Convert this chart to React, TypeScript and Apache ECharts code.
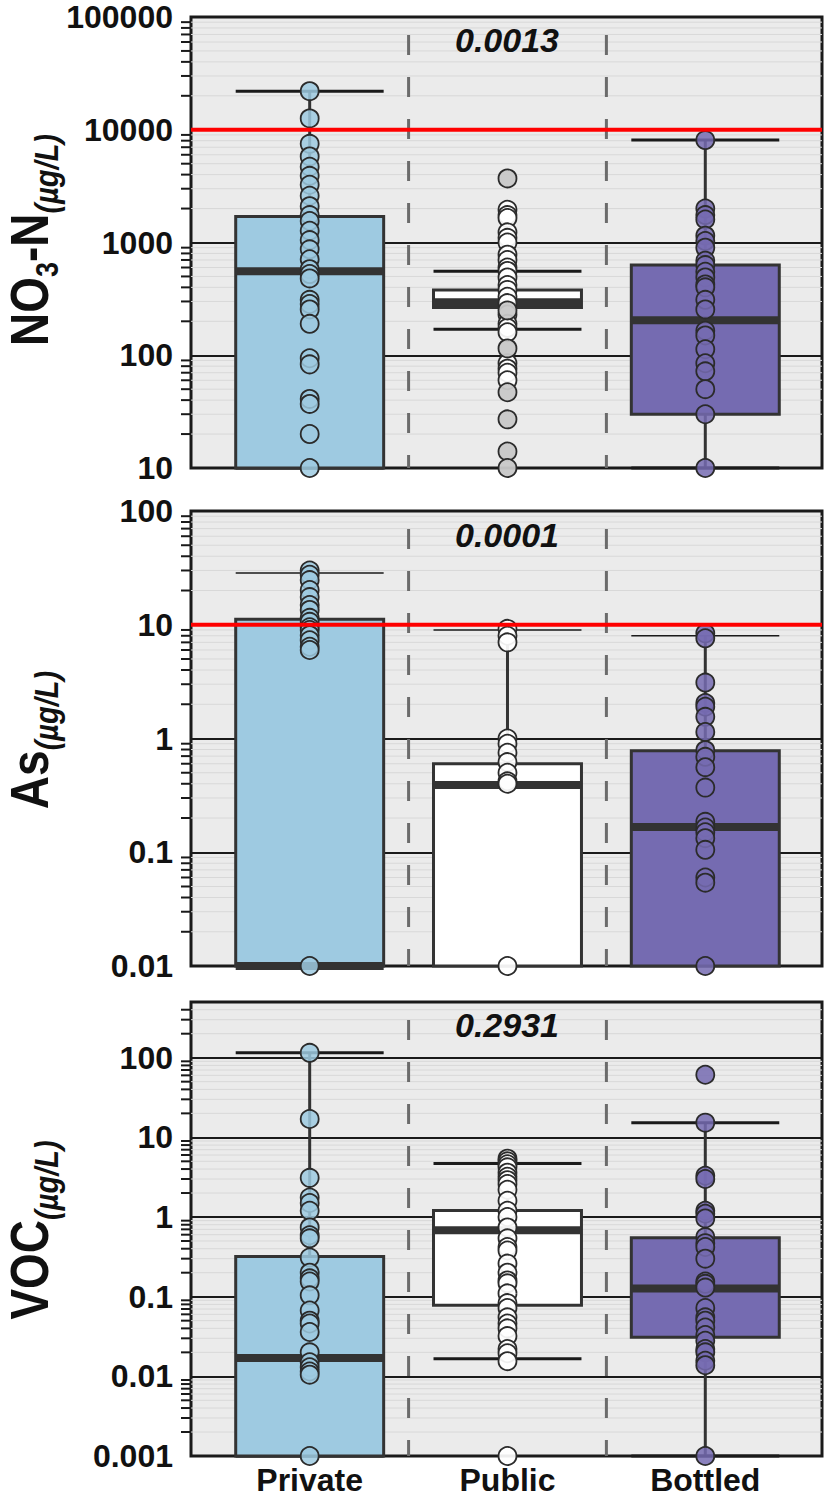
import React, { useEffect, useRef } from 'react';
import * as echarts from 'echarts';

const categories = ['Private', 'Public', 'Bottled'];

// ---- NO3-N (µg/L) ----
const no3Private = [22000, 12600, 7500, 5800, 4700, 3900, 3250, 2600, 2100, 1750, 1550, 1270, 1050, 870, 710, 580, 525, 480, 310, 285, 255, 190, 94, 83, 41, 37, 20, 10];
const no3PublicWhite = [1950, 1750, 1650, 1230, 1100, 1000, 780, 700, 600, 560, 490, 420, 380, 330, 290, 230, 190, 175, 160, 85, 76, 70, 60];
const no3PublicGray = [3700, 250, 115, 47, 27, 14, 10];
const no3Bottled = [8100, 2000, 1750, 1600, 1150, 1030, 900, 690, 630, 550, 490, 425, 400, 310, 255, 165, 150, 113, 85, 72, 50, 30, 10];
// [lower whisker, Q1, median, Q3, upper whisker]
const no3Box = [
  [10, 10, 556, 1700, 22000],
  [170, 265, 295, 380, 556],
  [10, 30, 204, 630, 8100],
];
const no3Limit = 10000;
const no3PValue = '0.0013';
const no3Range = [10, 100000];

// ---- As (µg/L) ----
const asPrivate = [30, 27.5, 24.7, 20.2, 17.5, 14.9, 13.5, 11.5, 10.6, 9.5, 9.0, 8.1, 7.3, 6.4, 6.0, 0.01];
const asPublic = [9.2, 8.0, 7.0, 1.0, 0.9, 0.75, 0.62, 0.5, 0.42, 0.4, 0.01];
const asBottled = [8.4, 7.6, 3.1, 2.05, 1.9, 1.55, 1.14, 0.79, 0.69, 0.56, 0.37, 0.185, 0.165, 0.15, 0.133, 0.105, 0.06, 0.054, 0.01];
const asBox = [
  [0.01, 0.01, 0.01, 11.2, 28.5],
  [0.01, 0.01, 0.39, 0.6, 9.0],
  [0.01, 0.01, 0.167, 0.78, 8.0],
];
const asLimit = 10;
const asPValue = '0.0001';
const asRange = [0.01, 100];

// ---- VOC (µg/L) ----
const vocPrivate = [115, 17, 3.1, 1.76, 1.5, 1.2, 0.74, 0.59, 0.54, 0.31, 0.2, 0.17, 0.155, 0.104, 0.067, 0.05, 0.046, 0.036, 0.02, 0.015, 0.013, 0.0115, 0.0105, 0.001];
const vocPublic = [5.4, 5.0, 4.6, 4.2, 3.6, 3.2, 2.9, 2.6, 2.2, 1.6, 1.2, 1.0, 0.74, 0.54, 0.42, 0.38, 0.26, 0.2, 0.16, 0.147, 0.11, 0.083, 0.072, 0.055, 0.046, 0.04, 0.032, 0.022, 0.0195, 0.0155, 0.001];
const vocBottled = [61, 15.3, 3.3, 3.0, 1.2, 1.1, 0.96, 0.56, 0.47, 0.42, 0.3, 0.155, 0.145, 0.13, 0.072, 0.055, 0.05, 0.041, 0.033, 0.028, 0.022, 0.02, 0.0157, 0.0138, 0.001];
const vocBox = [
  [0.001, 0.001, 0.017, 0.32, 115],
  [0.0166, 0.078, 0.68, 1.21, 4.7],
  [0.001, 0.031, 0.127, 0.55, 15.2],
];
const vocPValue = '0.2931';
const vocRange = [0.001, 500];

const FONT = '"Liberation Sans", Arial, Helvetica, sans-serif';
const boxFill = ['#9ecae1', '#ffffff', '#756bb1'];
const dotFill = ['rgba(158,202,225,0.85)', 'rgba(255,255,255,0.92)', 'rgba(117,107,177,0.85)'];
const dotGray = 'rgba(200,200,200,0.95)';

const GRID_LEFT = 191;
const GRID_WIDTH = 631;
const X_MIN = -0.6;
const X_MAX = 2.59;
const BOX_HALF = 0.374;

const panels = [
  {
    top: 17, height: 451, range: no3Range, box: no3Box, limit: no3Limit, p: no3PValue, pY: 40, cap: 3,
    groups: [[no3Private, 0, dotFill[0]], [no3PublicWhite, 1, dotFill[1]], [no3PublicGray, 1, dotGray], [no3Bottled, 2, dotFill[2]]],
    title: '{a|NO}{s|3}{a|-N}{u|(µg/L)}', titleY: 240,
  },
  {
    top: 511, height: 455, range: asRange, box: asBox, limit: asLimit, p: asPValue, pY: 535, cap: 1.5,
    groups: [[asPrivate, 0, dotFill[0]], [asPublic, 1, dotFill[1]], [asBottled, 2, dotFill[2]]],
    title: '{a|As}{u|(µg/L)}', titleY: 740,
  },
  {
    top: 1002, height: 454, range: vocRange, box: vocBox, limit: null as number | null, p: vocPValue, pY: 1025, cap: 3,
    groups: [[vocPrivate, 0, dotFill[0]], [vocPublic, 1, dotFill[1]], [vocBottled, 2, dotFill[2]]],
    title: '{a|VOC}{u|(µg/L)}', titleY: 1230,
  },
];

function minorValues(min: number, max: number) {
  const out: number[] = [];
  for (let k = Math.floor(Math.log10(min)); k <= Math.ceil(Math.log10(max)); k++) {
    for (let m = 2; m <= 9; m++) {
      const v = parseFloat((m * Math.pow(10, k)).toPrecision(6));
      if (v > min * 1.0001 && v < max * 0.9999) out.push(v);
    }
  }
  return out;
}

function logLabel(v: number) {
  const l = Math.log10(v);
  const r = Math.round(l);
  if (Math.abs(l - r) > 1e-6) return '';
  return r >= 0 ? String(Math.pow(10, r)) : Math.pow(10, r).toFixed(-r);
}

function buildOption() {
  const series: any[] = [];
  panels.forEach((p, i) => {
    // minor grid lines + minor ticks
    series.push({
      type: 'custom', xAxisIndex: i, yAxisIndex: i, z: 1, silent: true, clip: false,
      data: minorValues(p.range[0], p.range[1]).map((v) => [0, v]),
      encode: { x: 0, y: 1 },
      renderItem: (params: any, api: any) => {
        const cs = params.coordSys;
        const y = api.coord([0, api.value(1)])[1];
        return {
          type: 'group',
          children: [
            { type: 'line', shape: { x1: cs.x, y1: y, x2: cs.x + cs.width, y2: y }, style: { stroke: '#d8d8d8', lineWidth: 1 } },
            { type: 'line', shape: { x1: cs.x - 10, y1: y, x2: cs.x, y2: y }, style: { stroke: '#1a1a1a', lineWidth: 2 } },
          ],
        };
      },
    });
    // dashed separators
    series.push({
      type: 'custom', xAxisIndex: i, yAxisIndex: i, z: 2, silent: true, clip: false,
      data: [[0.5, p.range[0]], [1.5, p.range[0]]],
      encode: { x: 0, y: 1 },
      renderItem: (params: any, api: any) => {
        const cs = params.coordSys;
        const x = api.coord([api.value(0), api.value(1)])[0];
        return {
          type: 'line',
          shape: { x1: x, y1: cs.y, x2: x, y2: cs.y + cs.height },
          style: { stroke: '#6b6b6b', lineWidth: 3, lineDash: [20, 22], lineDashOffset: 24 },
        };
      },
    });
    // boxes
    series.push({
      type: 'custom', xAxisIndex: i, yAxisIndex: i, z: 3, silent: true, clip: false,
      data: p.box.map((b, k) => [k, ...b]),
      encode: { x: 0, y: [1, 2, 3, 4, 5] },
      renderItem: (params: any, api: any) => {
        const idx = params.dataIndex;
        const x = api.value(0);
        const lo = api.coord([x, api.value(1)]);
        const q1 = api.coord([x, api.value(2)]);
        const md = api.coord([x, api.value(3)]);
        const q3 = api.coord([x, api.value(4)]);
        const hi = api.coord([x, api.value(5)]);
        const left = api.coord([x - BOX_HALF, api.value(3)])[0];
        const right = api.coord([x + BOX_HALF, api.value(3)])[0];
        const stroke = '#333333';
        return {
          type: 'group',
          children: [
            { type: 'line', shape: { x1: lo[0], y1: lo[1], x2: hi[0], y2: hi[1] }, style: { stroke, lineWidth: 3 } },
            { type: 'line', shape: { x1: left, y1: hi[1], x2: right, y2: hi[1] }, style: { stroke: '#1a1a1a', lineWidth: p.cap } },
            { type: 'line', shape: { x1: left, y1: lo[1], x2: right, y2: lo[1] }, style: { stroke: '#1a1a1a', lineWidth: p.cap } },
            { type: 'rect', shape: { x: left, y: q3[1], width: right - left, height: q1[1] - q3[1] }, style: { fill: boxFill[idx], stroke, lineWidth: 3 } },
            { type: 'line', shape: { x1: left, y1: md[1], x2: right, y2: md[1] }, style: { stroke, lineWidth: 8 } },
          ],
        };
      },
    });
    // points
    p.groups.forEach((g: any) => {
      const [vals, cat, color] = g;
      series.push({
        type: 'scatter', xAxisIndex: i, yAxisIndex: i, z: 4, silent: true, clip: false,
        symbol: 'circle', symbolSize: 18,
        data: (vals as number[]).map((v) => [cat, v]),
        itemStyle: { color, borderColor: '#2b2b2b', borderWidth: 1.8, opacity: 1 },
      });
    });
    // limit line
    if (p.limit != null) {
      series.push({
        type: 'custom', xAxisIndex: i, yAxisIndex: i, z: 6, silent: true, clip: false,
        data: [[0, p.limit]],
        encode: { x: 0, y: 1 },
        renderItem: (params: any, api: any) => {
          const cs = params.coordSys;
          const y = api.coord([0, api.value(1)])[1];
          return { type: 'line', shape: { x1: cs.x, y1: y, x2: cs.x + cs.width, y2: y }, style: { stroke: '#ff0000', lineWidth: 4 } };
        },
      });
    }
  });

  const richTitle = {
    a: { fontSize: 46, fontWeight: 'bold', fontFamily: FONT, fill: '#111', color: '#111', lineHeight: 58 },
    s: { fontSize: 27, fontWeight: 'bold', fontFamily: FONT, fill: '#111', color: '#111', lineHeight: 27, verticalAlign: 'bottom' },
    u: { fontSize: 29, fontWeight: 'bold', fontStyle: 'italic', fontFamily: FONT, fill: '#111', color: '#111', lineHeight: 29, verticalAlign: 'bottom' },
  };

  const graphic: any[] = [];
  panels.forEach((p) => {
    graphic.push({
      type: 'text', x: 507, y: p.pY, z: 20, silent: true,
      style: {
        text: p.p, fontSize: 34, fontWeight: 'bold', fontStyle: 'italic', fontFamily: FONT, fill: '#111',
        align: 'center', verticalAlign: 'middle', textAlign: 'center', textVerticalAlign: 'middle',
      },
    });
    graphic.push({
      type: 'text', x: 30, y: p.titleY, rotation: Math.PI / 2, scaleY: 1.15, z: 20, silent: true,
      style: {
        text: p.title, rich: richTitle, fill: '#111',
        align: 'center', verticalAlign: 'middle', textAlign: 'center', textVerticalAlign: 'middle',
      },
    });
  });

  return {
    animation: false,
    backgroundColor: '#ffffff',
    grid: panels.map((p) => ({
      left: GRID_LEFT, top: p.top, width: GRID_WIDTH, height: p.height,
      show: true, backgroundColor: '#ebebeb', borderColor: '#1a1a1a', borderWidth: 3,
    })),
    xAxis: panels.map((p, i) => ({
      type: 'value', gridIndex: i, min: X_MIN, max: X_MAX,
      axisLine: { show: false }, axisTick: { show: false }, splitLine: { show: false },
      axisLabel: i === 2
        ? {
            show: true, customValues: [0, 1, 2],
            formatter: (v: number) => (Number.isInteger(v) && categories[v] ? categories[v] : ''),
            fontSize: 32, lineHeight: 32, fontWeight: 'bold', color: '#111', fontFamily: FONT, margin: 8,
          }
        : { show: false },
    })),
    yAxis: panels.map((p, i) => ({
      type: 'log', logBase: 10, gridIndex: i, min: p.range[0], max: p.range[1],
      axisLine: { show: false },
      axisTick: { show: true, length: 10, lineStyle: { color: '#1a1a1a', width: 2 } },
      axisLabel: { formatter: logLabel, fontSize: 32, lineHeight: 24, fontWeight: 'bold', color: '#111', fontFamily: FONT, margin: 18 },
      splitLine: { show: true, lineStyle: { color: '#1a1a1a', width: 2 } },
    })),
    series,
    graphic,
  };
}

export default function App() {
  const ref = useRef<HTMLDivElement>(null);
  useEffect(() => {
    document.body.style.margin = '0';
    const chart = echarts.init(ref.current as HTMLDivElement, null, { renderer: 'svg' });
    chart.setOption(buildOption() as any);
    return () => chart.dispose();
  }, []);
  return <div ref={ref} style={{ width: 825, height: 1500 }} />;
}
